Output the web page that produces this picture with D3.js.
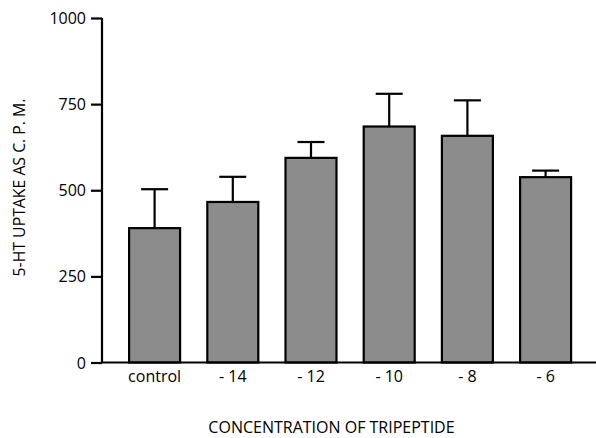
<!DOCTYPE html>
<html>
<head>
<meta charset="utf-8">
<script src="https://cdn.jsdelivr.net/npm/d3@7"></script>
<style>
  html, body { margin: 0; padding: 0; background: #fff; }
  text { font-family: "Open Sans", "Noto Sans", sans-serif; fill: #000; }
</style>
</head>
<body>
<div id="chart"></div>
<script>
// concentrations (log M) and uptake values
var categories = ["control", "- 14", "- 12", "- 10", "- 8", "- 6"];
var uptake = [390, 466, 594, 685, 658, 538];
var errorTop = [503, 539, 640, 780, 761, 557];
var yTicks = [0, 250, 500, 750, 1000];

var width = 596, height = 438;
var left = 102, bottom = 362.5;

var svg = d3.select("#chart").append("svg")
    .attr("width", width)
    .attr("height", height);

var y = d3.scaleLinear().domain([0, 1000]).range([bottom, 18]);

var x = d3.scaleBand()
    .domain(categories)
    .range([115.5, 584.7])
    .paddingInner(0.348)
    .paddingOuter(0.174);

// error bars (upper only) drawn first so the bar outline sits on top
var err = svg.append("g").attr("class", "errors");
err.selectAll("line.stem")
    .data(categories)
    .enter().append("line")
    .attr("class", "stem")
    .attr("x1", function(d) { return x(d) + x.bandwidth() / 2; })
    .attr("x2", function(d) { return x(d) + x.bandwidth() / 2; })
    .attr("y1", function(d, i) { return y(uptake[i]); })
    .attr("y2", function(d, i) { return y(errorTop[i]); })
    .style("stroke", "#000")
    .style("stroke-width", 2.2);

err.selectAll("line.cap")
    .data(categories)
    .enter().append("line")
    .attr("class", "cap")
    .attr("x1", function(d) { return x(d) + x.bandwidth() / 2 - 13.5; })
    .attr("x2", function(d) { return x(d) + x.bandwidth() / 2 + 13.5; })
    .attr("y1", function(d, i) { return y(errorTop[i]); })
    .attr("y2", function(d, i) { return y(errorTop[i]); })
    .style("stroke", "#000")
    .style("stroke-width", 2.2);

svg.append("g").attr("class", "bars")
    .selectAll("rect")
    .data(categories)
    .enter().append("rect")
    .attr("x", function(d) { return x(d); })
    .attr("y", function(d, i) { return y(uptake[i]); })
    .attr("width", x.bandwidth())
    .attr("height", function(d, i) { return bottom - y(uptake[i]); })
    .style("fill", "#8c8c8c")
    .style("stroke", "#000")
    .style("stroke-width", 2.2);

// y axis
var yAxis = svg.append("g")
    .attr("transform", "translate(" + left + ",0)")
    .call(d3.axisLeft(y).tickValues(yTicks).tickSize(11).tickPadding(5).tickFormat(d3.format("d")));
yAxis.select(".domain").attr("d", "M0," + y(1000) + "V" + bottom)
    .style("stroke", "#000").style("stroke-width", 2.2);
yAxis.selectAll(".tick line").style("stroke", "#000").style("stroke-width", 2.2);
yAxis.selectAll(".tick text")
    .style("font-size", "16px")
    .style("font-family", "'Open Sans', sans-serif")
    .attr("dy", "0.35em");

// x axis: baseline plus category labels, no tick marks
var xAxis = svg.append("g")
    .attr("transform", "translate(0," + bottom + ")")
    .call(d3.axisBottom(x).tickSize(0).tickPadding(8));
xAxis.select(".domain").attr("d", "M" + (left - 1) + ",0H" + width)
    .style("stroke", "#000").style("stroke-width", 2.2);
xAxis.selectAll(".tick text")
    .style("font-size", "16px")
    .style("font-family", "'Open Sans', sans-serif");

// axis titles
svg.append("text")
    .attr("transform", "translate(25,187.5) rotate(-90)")
    .attr("text-anchor", "middle")
    .style("font-size", "15.8px")
    .text("5-HT UPTAKE AS C. P. M.");

svg.append("text")
    .attr("x", 331.5)
    .attr("y", 433)
    .attr("text-anchor", "middle")
    .style("font-size", "16px")
    .text("CONCENTRATION OF TRIPEPTIDE");
</script>
</body>
</html>
